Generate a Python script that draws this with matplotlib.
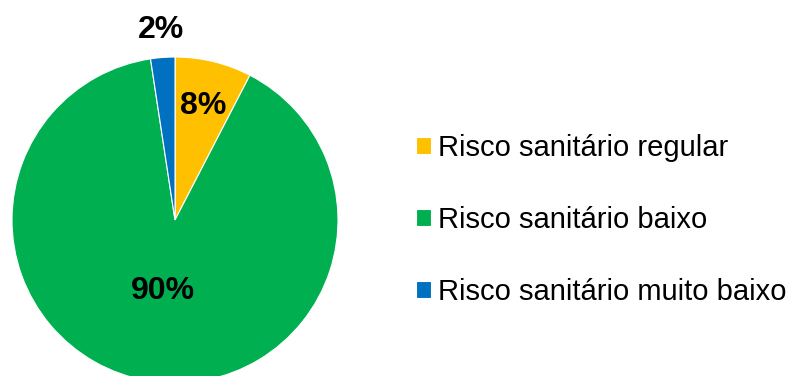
import numpy as np
import matplotlib.pyplot as plt

plt.rcParams['font.family'] = ['Liberation Sans', 'DejaVu Sans']

# dados (rótulos arredondados)
categorias = ['Risco sanitário regular', 'Risco sanitário baixo', 'Risco sanitário muito baixo']
valores = [7.6, 90.0, 2.4]
cores = ['#FFC000', '#00B050', '#0070C0']
dist_rotulos = [0.72, 0.44, 1.17]  # distância radial de cada rótulo

fig = plt.figure(figsize=(7.92, 3.76), dpi=100)
W, H = 792, 376
cx, cy, r = 175, 220, 163
ax = fig.add_axes([(cx - r) / W, (H - cy - r) / H, 2 * r / W, 2 * r / H])

wedges, textos, pcts = ax.pie(valores, colors=cores, startangle=90, counterclock=False,
                              autopct='%.0f%%', radius=1,
                              wedgeprops=dict(edgecolor='white', linewidth=0.8),
                              textprops=dict(fontsize=23, fontweight='bold', color='black'))
for w, t, d in zip(wedges, pcts, dist_rotulos):
    ang = np.deg2rad((w.theta1 + w.theta2) / 2)
    t.set_position((d * np.cos(ang), d * np.sin(ang)))
    t.set_ha('center')
    t.set_va('center')

ax.set_xlim(-1, 1)
ax.set_ylim(-1, 1)
ax.set_aspect('equal')
ax.axis('off')
for w in wedges:
    w.set_clip_on(False)

fig.legend(wedges, categorias, loc='center left', bbox_to_anchor=(416 / W, 1 - 220 / H),
           frameon=False, fontsize=21, handlelength=0.52, handleheight=0.52,
           handletextpad=0.24, labelspacing=1.5, borderpad=0, borderaxespad=0)

fig.savefig('out.png', dpi=100)
